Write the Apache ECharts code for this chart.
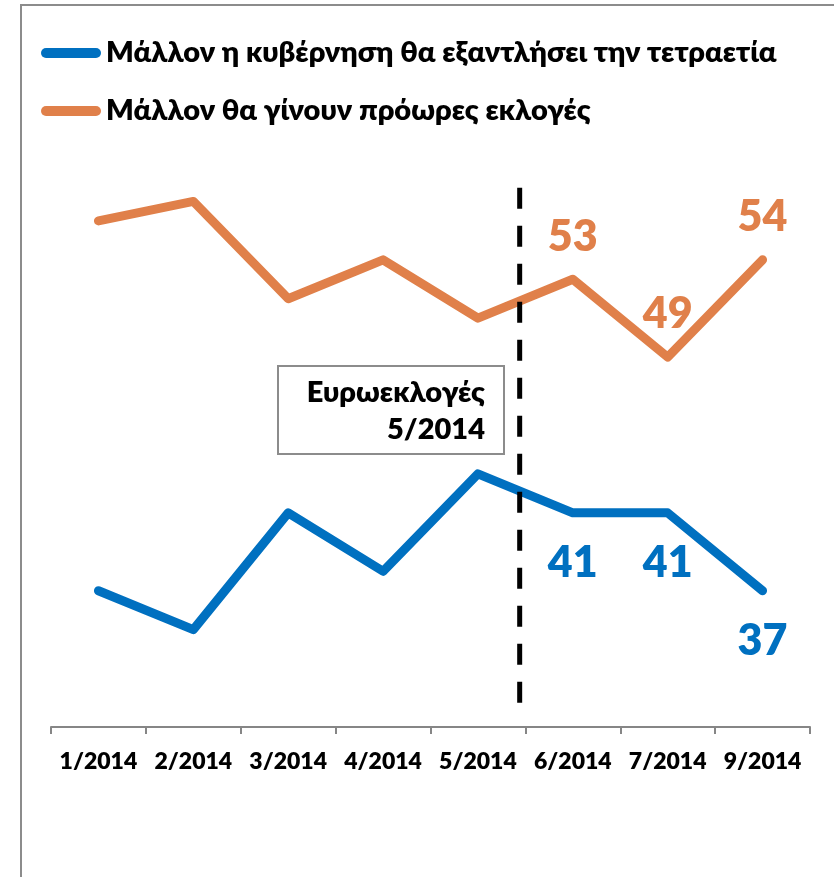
<!DOCTYPE html>
<html><head><meta charset="utf-8">
<script src="https://cdn.jsdelivr.net/npm/echarts@6/dist/echarts.min.js"></script>
<style>html,body{margin:0;padding:0;background:#fff}#c{width:834px;height:877px}</style>
</head><body><div id="c"></div>
<script>
const categories = ['1/2014','2/2014','3/2014','4/2014','5/2014','6/2014','7/2014','9/2014'];
const govValues = [37, 35, 41, 38, 43, 41, 41, 37];
const electValues = [56, 57, 52, 54, 51, 53, 49, 54];
const seriesNames = ['Μάλλον η κυβέρνηση θα εξαντλήσει την τετραετία', 'Μάλλον θα γίνουν πρόωρες εκλογές'];
const labeledIdx = [5, 6, 7];
const euroElectionPos = 4.44;          // between 5/2014 and 6/2014
const markerRange = [57.7, 30.5];      // vertical extent of the dashed marker (value units)
const annotationLines = ['Ευρωεκλογές', '5/2014'];
const yMin = 30, yMax = 60;

const FONT = 'Lato, "Noto Sans", sans-serif';
const W = 800;
const BLUE = '#0070C0', ORANGE = '#E0804A';

function withLabels(vals, pos, color, dist) {
  return vals.map((v, i) => labeledIdx.includes(i)
    ? { value: v, label: { show: true, position: pos, distance: dist, color: color, fontSize: 43, fontWeight: W, fontFamily: FONT } }
    : v);
}

const chart = echarts.init(document.getElementById('c'), null, { renderer: 'canvas' });
chart.setOption({
  animation: false,
  backgroundColor: '#fff',
  legend: {
    orient: 'vertical', left: 36, top: 33,
    itemWidth: 60, itemHeight: 10, itemGap: 28,
    icon: 'path://M5,0 H55 A5,5 0 0 1 55,10 H5 A5,5 0 0 1 5,0 Z',
    data: seriesNames,
    selectedMode: false,
    textStyle: { color: '#000', fontSize: 29, fontWeight: W, fontFamily: FONT, lineHeight: 30 }
  },
  grid: { left: 51, right: 24, top: 143, bottom: 150, containLabel: false },
  xAxis: [{
    type: 'category', data: categories, boundaryGap: true,
    axisLine: { lineStyle: { color: '#868686', width: 2 } },
    axisTick: { show: true, length: 7, interval: 0, lineStyle: { color: '#868686', width: 2 } },
    axisLabel: { interval: 0, color: '#000', fontSize: 23, fontWeight: W, fontFamily: FONT, margin: 23 }
  }, {
    type: 'value', min: -0.5, max: 7.5, show: false
  }],
  yAxis: { type: 'value', min: yMin, max: yMax, show: false, splitLine: { show: false } },
  graphic: [
    { type: 'rect', z: -1, shape: { x: 21, y: 5, width: 900, height: 900 }, style: { fill: 'none', stroke: '#8c8c8c', lineWidth: 2 } },
    { type: 'rect', z: 10, shape: { x: 278, y: 366, width: 226, height: 88 }, style: { fill: '#fff', stroke: '#8c8c8c', lineWidth: 2 } },
    { type: 'text', z: 11, x: 485, y: 374, style: { text: annotationLines.join('\n'), align: 'right', verticalAlign: 'top', fill: '#000', fontSize: 29, fontWeight: W, fontFamily: FONT, lineHeight: 37 } }
  ],
  series: [
    {
      name: seriesNames[0], type: 'line', data: withLabels(govValues, 'bottom', BLUE, 29),
      symbol: 'circle', symbolSize: 0.1, showSymbol: true, itemStyle: { color: BLUE },
      lineStyle: { color: BLUE, width: 9, cap: 'round', join: 'round' }, z: 3,
      emphasis: { disabled: true }
    },
    {
      name: seriesNames[1], type: 'line', data: withLabels(electValues, 'top', ORANGE, 21),
      symbol: 'circle', symbolSize: 0.1, showSymbol: true, itemStyle: { color: ORANGE },
      lineStyle: { color: ORANGE, width: 9, cap: 'round', join: 'round' }, z: 3,
      emphasis: { disabled: true }
    },
    {
      name: 'marker', type: 'line', xAxisIndex: 1,
      data: [[euroElectionPos, markerRange[0]], [euroElectionPos, markerRange[1]]],
      symbol: 'none', lineStyle: { color: '#000', width: 5, type: [21, 17], cap: 'butt' }, z: 5,
      emphasis: { disabled: true }, silent: true
    }
  ]
});
</script></body></html>
